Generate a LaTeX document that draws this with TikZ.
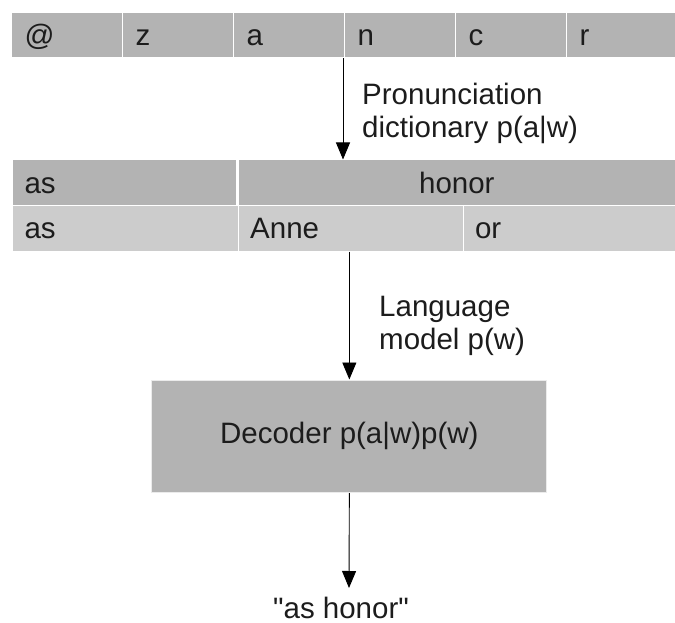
\documentclass[tikz,border=0pt]{standalone}
\usepackage{fontspec}
\setmainfont{Liberation Sans}
\newfontfamily\plainsans{Liberation Sans}
\usetikzlibrary{arrows.meta}
\definecolor{dg}{HTML}{B3B3B3}
\definecolor{lg}{HTML}{CCCCCC}
\definecolor{tx}{HTML}{1C1C1C}
\newcommand\fsz{\fontsize{29.5}{33}\selectfont}
\tikzset{
  cell/.style={draw=white, line width=1pt, minimum height=45.5pt, inner ysep=0pt,
    anchor=north west, text=tx, font=\fsz, text height=21pt, text depth=0pt},
  lcell/.style={cell, inner xsep=13pt, align=left},
  ccell/.style={cell, inner xsep=0pt, align=center},
  dark/.style={fill=dg},
  light/.style={fill=lg},
  arr/.style={draw=black, line width=0.9pt, -{Triangle[length=17pt,width=14pt]}},
  lbl/.style={font=\fsz, text=tx, inner sep=0pt, align=left, anchor=base west},
  decbox/.style={fill=dg, draw=black!8, line width=1pt, minimum width=395pt,
    minimum height=112.7pt, font=\fsz, text=tx, inner sep=0pt}
}
\begin{document}
\begin{tikzpicture}[x=1pt,y=-1pt]
\useasboundingbox (0,0) rectangle (675,623);
% top phoneme row
\node[lcell,dark,text width=85pt] (t1) at (11,12) {@};
\node[lcell,dark,text width=85pt] (t2) at (122,12) {z};
\node[lcell,dark,text width=85pt] (t3) at (233,12) {a};
\node[lcell,dark,text width=85pt] (t4) at (344,12) {n};
\node[lcell,dark,text width=85pt] (t5) at (455,12) {c};
\node[lcell,dark,text width=84pt] (t6) at (566,12) {r};
% word rows
\node[lcell,dark,text width=199.7pt,inner xsep=12pt] (w1) at (12,159.5) {as};
\node[ccell,dark,text width=437.3pt] (w2) at (237.7,159.5) {honor};
\node[lcell,light,text width=201.7pt,inner xsep=12pt] (a1) at (12,205) {as};
\node[lcell,light,text width=200.8pt,inner xsep=12pt] (a2) at (237.7,205) {Anne};
\node[lcell,light,text width=188.5pt,inner xsep=12pt] (a3) at (462.5,205) {or};
% decoder
\node[decbox] (dec) at (349.35,436.35) {Decoder p(a|w)p(w)};
% labels (anchored at the baseline of the last line)
\node[lbl] (l1) at (362,138) {Pronunciation\\dictionary p(a|w)};
\node[lbl] (l2) at (379,349) {Language\\model p(w)};
\node[font=\plainsans\fsz, text=tx, inner sep=0pt, text depth=0pt, anchor=base] (out) at (341,618) {"as honor"};
\coordinate (outtip) at (349,588);
% arrows
\draw[arr] ([xshift=-1pt]t4.south west) -- ([xshift=-1pt]t4.south west |- w2.north);
\draw[arr] (dec.north |- a2.south) -- (dec.north);
\draw[arr] (dec.south) -- (outtip);
\end{tikzpicture}
\end{document}
